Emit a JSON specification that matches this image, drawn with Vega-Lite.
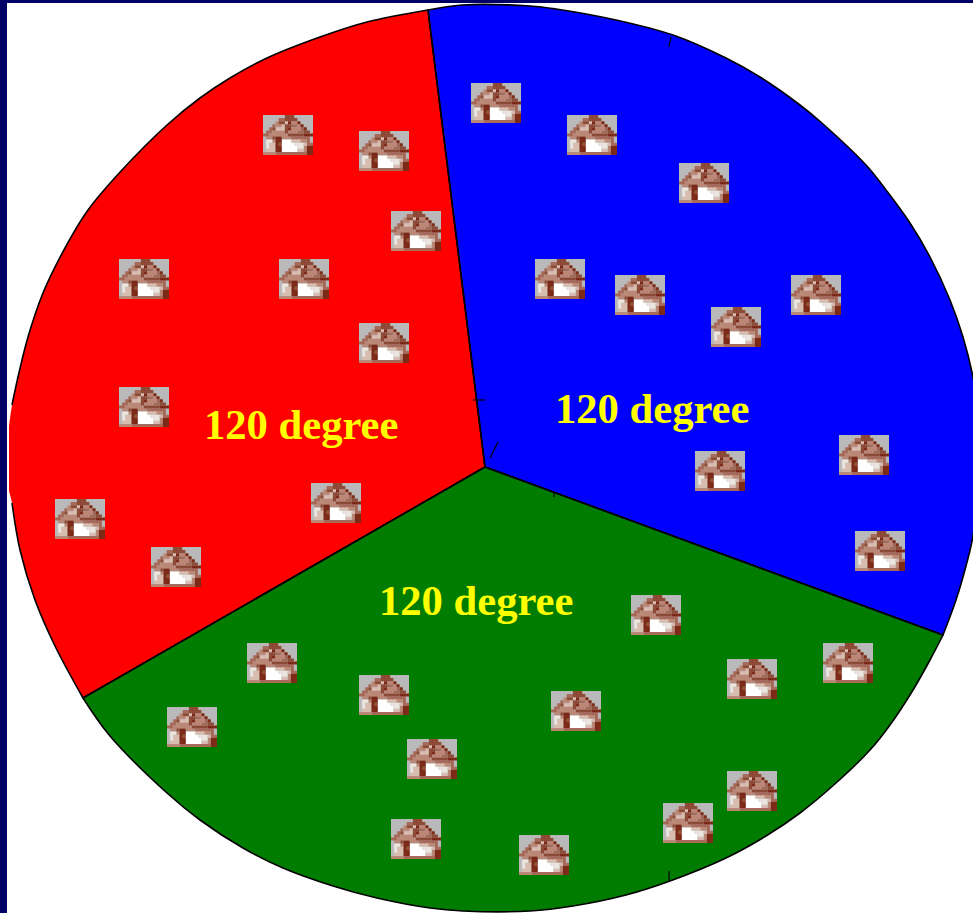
{
  "$schema": "https://vega.github.io/schema/vega-lite/v6.json",
  "autosize": {"type": "fit", "contains": "padding"},
  "width": 973,
  "height": 913,
  "padding": 0,
  "background": "#ffffff",
  "config": {"view": {"stroke": null}},
  "datasets": {
    "frame": [
      {"x": 0, "x2": 7, "y": 0, "y2": 913},
      {"x": 0, "x2": 973, "y": 0, "y2": 3}
    ],
    "wedges": [
      {"slice": "red", "n": 0, "x": 485, "y": 467, "run": "red-a"},
      {"slice": "red", "n": 1, "x": 485, "y": 467, "run": "red-a"},
      {"slice": "red", "n": 2, "x": 428, "y": 10, "run": "red-a"},
      {"slice": "red", "n": 3, "x": 428, "y": 10, "run": "red-a"},
      {"slice": "red", "n": 4, "x": 367, "y": 22, "run": "red-a"},
      {"slice": "red", "n": 5, "x": 320, "y": 37, "run": "red-a"},
      {"slice": "red", "n": 6, "x": 267, "y": 58, "run": "red-a"},
      {"slice": "red", "n": 7, "x": 230, "y": 78, "run": "red-a"},
      {"slice": "red", "n": 8, "x": 200, "y": 98, "run": "red-a"},
      {"slice": "red", "n": 9, "x": 167, "y": 125, "run": "red-a"},
      {"slice": "red", "n": 10, "x": 122, "y": 170, "run": "red-a"},
      {"slice": "red", "n": 11, "x": 88, "y": 210, "run": "red-a"},
      {"slice": "red", "n": 12, "x": 65, "y": 248, "run": "red-a"},
      {"slice": "red", "n": 13, "x": 43, "y": 293, "run": "red-a"},
      {"slice": "red", "n": 14, "x": 28, "y": 337, "run": "red-a"},
      {"slice": "red", "n": 15, "x": 18, "y": 377, "run": "red-a"},
      {"slice": "red", "n": 16, "x": 12, "y": 405, "run": "red-a"},
      {"slice": "red", "n": 17, "x": 9, "y": 427, "run": null},
      {"slice": "red", "n": 18, "x": 9, "y": 427, "run": null},
      {"slice": "red", "n": 19, "x": 9, "y": 491, "run": null},
      {"slice": "red", "n": 20, "x": 9, "y": 491, "run": null},
      {"slice": "red", "n": 21, "x": 12, "y": 503, "run": "red-b"},
      {"slice": "red", "n": 22, "x": 20, "y": 550, "run": "red-b"},
      {"slice": "red", "n": 23, "x": 35, "y": 600, "run": "red-b"},
      {"slice": "red", "n": 24, "x": 55, "y": 646, "run": "red-b"},
      {"slice": "red", "n": 25, "x": 83, "y": 698, "run": "red-b"},
      {"slice": "red", "n": 26, "x": 83, "y": 698, "run": "red-b"},
      {"slice": "red", "n": 27, "x": 485, "y": 467, "run": "red-b"},
      {"slice": "red", "n": 28, "x": 485, "y": 467, "run": "red-b"},

      {"slice": "blue", "n": 0, "x": 485, "y": 467, "run": "blue"},
      {"slice": "blue", "n": 1, "x": 485, "y": 467, "run": "blue"},
      {"slice": "blue", "n": 2, "x": 428, "y": 10, "run": "blue"},
      {"slice": "blue", "n": 3, "x": 428, "y": 10, "run": "blue"},
      {"slice": "blue", "n": 4, "x": 462, "y": 5, "run": "blue"},
      {"slice": "blue", "n": 5, "x": 530, "y": 6, "run": "blue"},
      {"slice": "blue", "n": 6, "x": 556, "y": 9, "run": "blue"},
      {"slice": "blue", "n": 7, "x": 616, "y": 20, "run": "blue"},
      {"slice": "blue", "n": 8, "x": 673, "y": 35, "run": "blue"},
      {"slice": "blue", "n": 9, "x": 726, "y": 58, "run": "blue"},
      {"slice": "blue", "n": 10, "x": 760, "y": 77, "run": "blue"},
      {"slice": "blue", "n": 11, "x": 800, "y": 105, "run": "blue"},
      {"slice": "blue", "n": 12, "x": 823, "y": 124, "run": "blue"},
      {"slice": "blue", "n": 13, "x": 866, "y": 165, "run": "blue"},
      {"slice": "blue", "n": 14, "x": 883, "y": 186, "run": "blue"},
      {"slice": "blue", "n": 15, "x": 910, "y": 223, "run": "blue"},
      {"slice": "blue", "n": 16, "x": 930, "y": 257, "run": "blue"},
      {"slice": "blue", "n": 17, "x": 950, "y": 300, "run": "blue"},
      {"slice": "blue", "n": 18, "x": 963, "y": 337, "run": "blue"},
      {"slice": "blue", "n": 19, "x": 973, "y": 377, "run": "blue"},
      {"slice": "blue", "n": 20, "x": 982, "y": 440, "run": "blue"},
      {"slice": "blue", "n": 21, "x": 973, "y": 536, "run": "blue"},
      {"slice": "blue", "n": 22, "x": 966, "y": 566, "run": "blue"},
      {"slice": "blue", "n": 23, "x": 956, "y": 600, "run": "blue"},
      {"slice": "blue", "n": 24, "x": 943, "y": 635, "run": "blue"},
      {"slice": "blue", "n": 25, "x": 943, "y": 635, "run": "blue"},
      {"slice": "blue", "n": 26, "x": 485, "y": 467, "run": "blue"},
      {"slice": "blue", "n": 27, "x": 485, "y": 467, "run": "blue"},

      {"slice": "green", "n": 0, "x": 485, "y": 467, "run": "green"},
      {"slice": "green", "n": 1, "x": 485, "y": 467, "run": "green"},
      {"slice": "green", "n": 2, "x": 943, "y": 635, "run": "green"},
      {"slice": "green", "n": 3, "x": 943, "y": 635, "run": "green"},
      {"slice": "green", "n": 4, "x": 930, "y": 660, "run": "green"},
      {"slice": "green", "n": 5, "x": 913, "y": 690, "run": "green"},
      {"slice": "green", "n": 6, "x": 890, "y": 725, "run": "green"},
      {"slice": "green", "n": 7, "x": 870, "y": 750, "run": "green"},
      {"slice": "green", "n": 8, "x": 836, "y": 783, "run": "green"},
      {"slice": "green", "n": 9, "x": 800, "y": 813, "run": "green"},
      {"slice": "green", "n": 10, "x": 766, "y": 836, "run": "green"},
      {"slice": "green", "n": 11, "x": 726, "y": 858, "run": "green"},
      {"slice": "green", "n": 12, "x": 670, "y": 881, "run": "green"},
      {"slice": "green", "n": 13, "x": 626, "y": 895, "run": "green"},
      {"slice": "green", "n": 14, "x": 573, "y": 906, "run": "green"},
      {"slice": "green", "n": 15, "x": 530, "y": 911, "run": "green"},
      {"slice": "green", "n": 16, "x": 463, "y": 911, "run": "green"},
      {"slice": "green", "n": 17, "x": 430, "y": 908, "run": "green"},
      {"slice": "green", "n": 18, "x": 377, "y": 898, "run": "green"},
      {"slice": "green", "n": 19, "x": 333, "y": 886, "run": "green"},
      {"slice": "green", "n": 20, "x": 283, "y": 868, "run": "green"},
      {"slice": "green", "n": 21, "x": 243, "y": 848, "run": "green"},
      {"slice": "green", "n": 22, "x": 200, "y": 820, "run": "green"},
      {"slice": "green", "n": 23, "x": 167, "y": 793, "run": "green"},
      {"slice": "green", "n": 24, "x": 110, "y": 736, "run": "green"},
      {"slice": "green", "n": 25, "x": 83, "y": 698, "run": "green"},
      {"slice": "green", "n": 26, "x": 83, "y": 698, "run": "green"},
      {"slice": "green", "n": 27, "x": 485, "y": 467, "run": "green"},
      {"slice": "green", "n": 28, "x": 485, "y": 467, "run": "green"}
    ],
    "ticks": [
      {"x": 473, "x2": 485, "y": 400, "y2": 400},
      {"x": 490, "x2": 498, "y": 458, "y2": 442},
      {"x": 671, "x2": 669, "y": 37, "y2": 47},
      {"x": 669, "x2": 669, "y": 871, "y2": 881},
      {"x": 554, "x2": 554, "y": 492, "y2": 497}
    ],
    "houses": [
      {"slice": "red", "x": 288, "y": 135},
      {"slice": "red", "x": 384, "y": 151},
      {"slice": "red", "x": 416, "y": 231},
      {"slice": "red", "x": 144, "y": 279},
      {"slice": "red", "x": 304, "y": 279},
      {"slice": "red", "x": 384, "y": 343},
      {"slice": "red", "x": 144, "y": 407},
      {"slice": "red", "x": 80, "y": 519},
      {"slice": "red", "x": 336, "y": 503},
      {"slice": "red", "x": 176, "y": 567},
      {"slice": "blue", "x": 496, "y": 103},
      {"slice": "blue", "x": 592, "y": 135},
      {"slice": "blue", "x": 704, "y": 183},
      {"slice": "blue", "x": 560, "y": 279},
      {"slice": "blue", "x": 640, "y": 295},
      {"slice": "blue", "x": 816, "y": 295},
      {"slice": "blue", "x": 736, "y": 327},
      {"slice": "blue", "x": 864, "y": 455},
      {"slice": "blue", "x": 720, "y": 471},
      {"slice": "blue", "x": 880, "y": 551},
      {"slice": "green", "x": 656, "y": 615},
      {"slice": "green", "x": 848, "y": 663},
      {"slice": "green", "x": 752, "y": 679},
      {"slice": "green", "x": 272, "y": 663},
      {"slice": "green", "x": 384, "y": 695},
      {"slice": "green", "x": 576, "y": 711},
      {"slice": "green", "x": 192, "y": 727},
      {"slice": "green", "x": 432, "y": 759},
      {"slice": "green", "x": 752, "y": 791},
      {"slice": "green", "x": 688, "y": 823},
      {"slice": "green", "x": 416, "y": 839},
      {"slice": "green", "x": 544, "y": 855}
    ],
    "labels": [
      {"text": "120 degree", "x": 204, "y": 439},
      {"text": "120 degree", "x": 555, "y": 423},
      {"text": "120 degree", "x": 379, "y": 615}
    ]
  },
  "encoding": {
    "x": {"field": "x", "type": "quantitative", "axis": null, "scale": {"domain": [0, 973], "nice": false, "zero": false}},
    "y": {"field": "y", "type": "quantitative", "axis": null, "scale": {"domain": [913, 0], "nice": false, "zero": false}}
  },
  "layer": [
    {
      "data": {"name": "frame"},
      "mark": {"type": "rect", "color": "#000066"},
      "encoding": {"x2": {"field": "x2"}, "y2": {"field": "y2"}}
    },
    {
      "data": {"name": "wedges"},
      "mark": {"type": "line", "stroke": null, "clip": true, "interpolate": "catmull-rom"},
      "encoding": {
        "fill": {"field": "slice", "type": "nominal", "legend": null, "scale": {"domain": ["red", "blue", "green"], "range": ["#ff0000", "#0000ff", "#007d00"]}},
        "order": {"field": "n", "type": "quantitative"}
      }
    },
    {
      "data": {"name": "wedges"},
      "transform": [{"filter": "datum.run != null"}],
      "mark": {"type": "line", "stroke": "#000000", "strokeWidth": 1.6, "clip": true, "interpolate": "catmull-rom"},
      "encoding": {
        "detail": {"field": "run", "type": "nominal"},
        "order": {"field": "n", "type": "quantitative"}
      }
    },
    {
      "data": {"name": "ticks"},
      "mark": {"type": "rule", "stroke": "#000000", "strokeWidth": 1.2},
      "encoding": {"x2": {"field": "x2"}, "y2": {"field": "y2"}}
    },
    {
      "data": {"name": "houses"},
      "mark": {"type": "point", "shape": "M-1-.8H1V.8H-1Z", "size": 2500, "filled": true, "opacity": 1, "strokeWidth": 0, "fill": "#b9b9b9"}
    },
    {
      "data": {"name": "houses"},
      "mark": {"type": "point", "shape": "M-.375-.677H-.125V-.554H-.375ZM-.625-.431H-.5V-.308H-.625ZM.125-.431H.375V-.308H.125ZM-.75-.308H-.625V-.185H-.75ZM.5-.308H.625V-.185H.5ZM-.875-.185H-.625V-.062H-.875ZM.375-.185H.625V-.062H.375ZM-1-.062H-.75V.061H-1ZM.125 .061H.875V.184H.125ZM.75 .184H.875V.307H.75ZM.75 .307H1V.43H.75ZM-.5 .676H.75V.8H-.5Z", "size": 2500, "filled": true, "opacity": 1, "strokeWidth": 0, "fill": "#a86a58"}
    },
    {
      "data": {"name": "houses"},
      "mark": {"type": "point", "shape": "M-.5-.554H-.375V-.431H-.5ZM.125-.554H.375V-.431H.125ZM-.5-.431H-.25V-.308H-.5ZM.375-.431H.5V-.308H.375ZM.125-.308H.5V-.185H.125ZM-.625-.185H-.125V-.062H-.625ZM0-.185H.375V-.062H0ZM-.75-.062H0V.061H-.75ZM-.875 .061H-.625V.184H-.875ZM-.25 .061H.125V.184H-.25ZM-.625 .184H-.5V.307H-.625ZM.5 .184H.75V.307H.5ZM.625 .43H.75V.676H.625ZM-1 .676H-.5V.8H-1Z", "size": 2500, "filled": true, "opacity": 1, "strokeWidth": 0, "fill": "#bb8878"}
    },
    {
      "data": {"name": "houses"},
      "mark": {"type": "point", "shape": "M-.125-.554H0V-.431H-.125ZM-.25-.431H-.125V-.308H-.25ZM-.5-.308H-.125V-.185H-.5ZM.125 .184H.5V.307H.125ZM-.75 .307H-.5V.553H-.75ZM.625 .307H.75V.43H.625ZM-.875 .553H-.5V.676H-.875ZM.375 .553H.625V.676H.375Z", "size": 2500, "filled": true, "opacity": 1, "strokeWidth": 0, "fill": "#d8bcb0"}
    },
    {
      "data": {"name": "houses"},
      "mark": {"type": "point", "shape": "M-.875 .184H-.625V.307H-.875ZM-.875 .307H-.75V.553H-.875ZM.25 .307H.625V.43H.25ZM.375 .43H.625V.553H.375Z", "size": 2500, "filled": true, "opacity": 1, "strokeWidth": 0, "fill": "#ece4e0"}
    },
    {
      "data": {"name": "houses"},
      "mark": {"type": "point", "shape": "M-.25 .184H.125V.307H-.25ZM-.25 .307H.25V.43H-.25ZM-.25 .43H.375V.676H-.25Z", "size": 2500, "filled": true, "opacity": 1, "strokeWidth": 0, "fill": "#ffffff"}
    },
    {
      "data": {"name": "houses"},
      "mark": {"type": "point", "shape": "M-.125-.8H.25V-.677H-.125ZM-.125-.677H.375V-.554H-.125ZM-.375-.554H-.125V-.431H-.375ZM-.125-.431H.125V-.308H-.125ZM-.625-.308H-.5V-.185H-.625ZM-.125-.308H0V-.185H-.125ZM-.125-.185H0V-.062H-.125ZM.625-.185H.875V-.062H.625ZM0-.062H.625V.061H0ZM-.625 .061H-.5V.184H-.625ZM-.375 .307H-.25V.43H-.375Z", "size": 2500, "filled": true, "opacity": 1, "strokeWidth": 0, "fill": "#8e4a36"}
    },
    {
      "data": {"name": "houses"},
      "mark": {"type": "point", "shape": "M0-.554H.125V-.431H0ZM.375-.554H.5V-.431H.375ZM.5-.431H.625V-.308H.5ZM0-.308H.125V-.185H0ZM.625-.308H.75V-.185H.625ZM.625-.062H1V.061H.625ZM-.5 .061H-.25V.307H-.5ZM-.5 .307H-.375V.43H-.5ZM-.5 .43H-.25V.676H-.5ZM.75 .43H1V.8H.75Z", "size": 2500, "filled": true, "opacity": 1, "strokeWidth": 0, "fill": "#7d2a16"}
    },
    {
      "data": {"name": "labels"},
      "mark": {"type": "text", "font": "Liberation Serif", "fontWeight": "bold", "fontSize": 42.6, "fill": "#ffff00", "align": "left", "baseline": "alphabetic"},
      "encoding": {"text": {"field": "text", "type": "nominal"}}
    }
  ]
}
